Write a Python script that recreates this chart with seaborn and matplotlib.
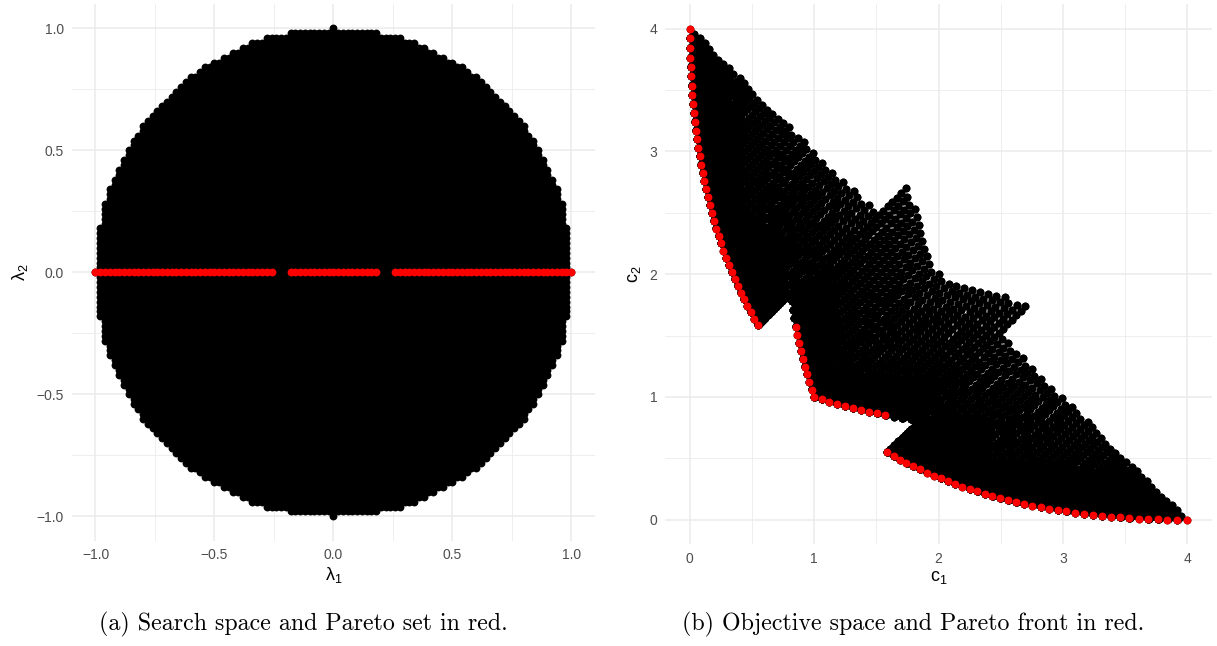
import numpy as np
import pandas as pd
import matplotlib
matplotlib.use("Agg")
import matplotlib.pyplot as plt
import seaborn as sns
from matplotlib.ticker import MultipleLocator

# ---------------- data definition ----------------
# Search space: regular grid with spacing 0.02 inside the unit disk
GRID_STEPS_PER_UNIT = 50          # grid spacing = 1/50 = 0.02
SEARCH_RADIUS = 1.0
# Objectives: c1 = (1+l1)^2 + l2^2 + s, c2 = (1-l1)^2 + l2^2 + s,
# with the shift s = |l1| inside the band |l1| < BAND_HALF_WIDTH, else 0
BAND_HALF_WIDTH = 0.25

x_ticks_a = [-1.0, -0.5, 0.0, 0.5, 1.0]
y_ticks_a = [-1.0, -0.5, 0.0, 0.5, 1.0]
x_ticks_b = [0, 1, 2, 3, 4]
y_ticks_b = [0, 1, 2, 3, 4]
caption_a = "(a) Search space and Pareto set in red."
caption_b = "(b) Objective space and Pareto front in red."

# ---------------- build the point table ----------------
idx = np.arange(-GRID_STEPS_PER_UNIT, GRID_STEPS_PER_UNIT + 1)
I, J = np.meshgrid(idx, idx, indexing="ij")
inside = I**2 + J**2 <= (SEARCH_RADIUS * GRID_STEPS_PER_UNIT) ** 2
l1 = (I[inside] / GRID_STEPS_PER_UNIT).astype(float)
l2 = (J[inside] / GRID_STEPS_PER_UNIT).astype(float)
shift = np.where(np.abs(l1) < BAND_HALF_WIDTH, np.abs(l1), 0.0)
c1 = (1 + l1) ** 2 + l2 ** 2 + shift
c2 = (1 - l1) ** 2 + l2 ** 2 + shift

# non-dominated filter (minimisation of both objectives)
n = len(c1)
pareto = np.ones(n, dtype=bool)
eps = 1e-12
for start in range(0, n, 800):
    a1 = c1[start:start + 800, None]
    a2 = c2[start:start + 800, None]
    le = (c1[None, :] <= a1 + eps) & (c2[None, :] <= a2 + eps)
    lt = (c1[None, :] < a1 - eps) | (c2[None, :] < a2 - eps)
    pareto[start:start + 800] = ~np.any(le & lt, axis=1)

df = pd.DataFrame({"l1": l1, "l2": l2, "c1": c1, "c2": c2, "pareto": pareto})
df_p = df[df["pareto"]]

# ---------------- styling ----------------
sns.set_theme(style="white")
plt.rcParams["font.family"] = ["Liberation Sans", "DejaVu Sans"]
plt.rcParams["axes.unicode_minus"] = True

W, H = 1217, 646
fig = plt.figure(figsize=(W / 100, H / 100), dpi=100)
fig.patch.set_facecolor("white")

axL = fig.add_axes([71.7 / W, 1 - 540.7 / H, (595 - 71.7) / W, (540.7 - 4) / H])
axR = fig.add_axes([665 / W, 1 - 544.3 / H, (1212 - 665) / W, (544.3 - 4) / H])

PT_S = 32
sns.scatterplot(data=df, x="l1", y="l2", color="black", s=PT_S, linewidth=0,
                ax=axL, legend=False, zorder=3)
sns.scatterplot(data=df_p, x="l1", y="l2", color="red", s=PT_S, linewidth=0,
                ax=axL, legend=False, zorder=4)
sns.scatterplot(data=df, x="c1", y="c2", color="black", s=PT_S, linewidth=0,
                ax=axR, legend=False, zorder=3)
sns.scatterplot(data=df_p, x="c1", y="c2", color="red", s=PT_S, linewidth=0,
                ax=axR, legend=False, zorder=4)

axL.set_xlim(-1.1, 1.1)
axL.set_ylim(-1.1, 1.1)
axR.set_xlim(-0.2, 4.2)
axR.set_ylim(-0.2, 4.2)

for ax, xt, yt, xm, ym in [(axL, x_ticks_a, y_ticks_a, 0.25, 0.25),
                           (axR, x_ticks_b, y_ticks_b, 0.5, 0.5)]:
    ax.set_xticks(xt)
    ax.set_yticks(yt)
    ax.xaxis.set_minor_locator(MultipleLocator(xm))
    ax.yaxis.set_minor_locator(MultipleLocator(ym))
    ax.set_facecolor("white")
    ax.set_axisbelow(True)
    ax.grid(which="major", color="#EBEBEB", linewidth=1.1)
    ax.grid(which="minor", color="#EBEBEB", linewidth=0.6)
    for sp in ax.spines.values():
        sp.set_visible(False)
    ax.tick_params(which="both", length=0, labelsize=10, labelcolor="#4D4D4D", pad=5.5)

axL.set_xticklabels([f"{v:.1f}".replace("-", "\u2212") for v in x_ticks_a])
axL.set_yticklabels([f"{v:.1f}".replace("-", "\u2212") for v in y_ticks_a])
axR.set_xticklabels([str(v) for v in x_ticks_b])
axR.set_yticklabels([str(v) for v in y_ticks_b])

axL.set_xlabel(r"$\mathregular{\lambda_1}$", fontsize=13, color="black", labelpad=2)
axL.set_ylabel(r"$\mathregular{\lambda_2}$", fontsize=13, color="black", labelpad=5)
axR.set_xlabel(r"$\mathregular{c_1}$", fontsize=13, color="black", labelpad=2)
axR.set_ylabel(r"$\mathregular{c_2}$", fontsize=13, color="black", labelpad=5)

fig.text(303.5 / W, 1 - 624 / H, caption_a, family="cmr10", fontsize=17.2,
         ha="center", va="center", color="black")
fig.text(913 / W, 1 - 624 / H, caption_b, family="cmr10", fontsize=17.2,
         ha="center", va="center", color="black")

fig.savefig("out.png", dpi=100, facecolor="white")
